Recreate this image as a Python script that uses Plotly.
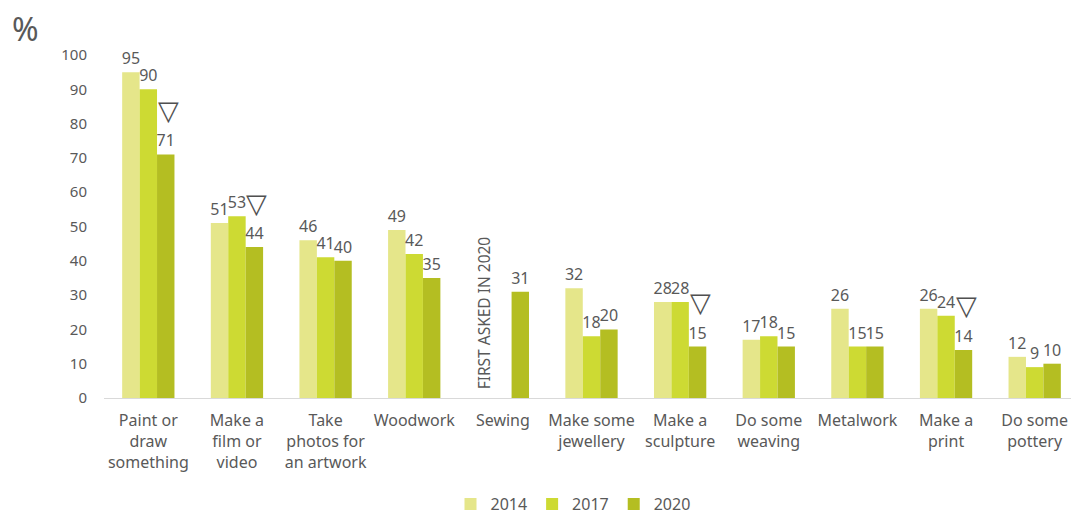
import plotly.graph_objects as go

# activities, with line breaks as they appear under the axis
categories = [
    "Paint or<br>draw<br>something",
    "Make a<br>film or<br>video",
    "Take<br>photos for<br>an artwork",
    "Woodwork",
    "Sewing",
    "Make some<br>jewellery",
    "Make a<br>sculpture",
    "Do some<br>weaving",
    "Metalwork",
    "Make a<br>print",
    "Do some<br>pottery",
]

# % of pupils, per survey year (None = not asked that year)
values_2014 = [95, 51, 46, 49, None, 32, 28, 17, 26, 26, 12]
values_2017 = [90, 53, 41, 42, None, 18, 28, 18, 15, 24, 9]
values_2020 = [71, 44, 40, 35, 31, 20, 15, 15, 15, 14, 10]

# categories with a significant fall since 2017 (marked with a triangle)
significant_drop = [
    "Paint or<br>draw<br>something",
    "Make a<br>film or<br>video",
    "Make a<br>sculpture",
    "Make a<br>print",
]

years = ["2014", "2017", "2020"]
colors = ["#E5E68A", "#CDDA33", "#B4BE22"]
text_color = "#595959"
font_family = "Noto Sans, Open Sans, sans-serif"

fig = go.Figure()
for year, vals, col in zip(years, [values_2014, values_2017, values_2020], colors):
    fig.add_trace(
        go.Bar(
            name=year,
            x=categories,
            y=vals,
            marker=dict(color=col, line=dict(width=0)),
            text=[("" if v is None else str(v)) for v in vals],
            textposition="outside",
            constraintext="none",
            textfont=dict(size=16, color=text_color, family=font_family),
            cliponaxis=False,
        )
    )

for cat in significant_drop:
    v = values_2020[categories.index(cat)]
    fig.add_annotation(
        x=cat, y=v, xref="x", yref="y",
        text="▽", showarrow=False,
        xshift=20, yshift=44,
        font=dict(size=27, color="#505050", family="DejaVu Sans"),
    )

fig.add_annotation(
    x="Sewing", y=0, xref="x", yref="y",
    text="FIRST ASKED IN 2020", showarrow=False,
    textangle=-90, xshift=-19, yshift=7, yanchor="bottom",
    font=dict(size=15.5, color=text_color, family=font_family),
)

# the "%" unit label in the top-left corner
fig.add_annotation(
    x=(25 - 104) / 975, y=(398 - 28) / 343, xref="paper", yref="paper",
    text="%", showarrow=False,
    xanchor="center", yanchor="middle",
    font=dict(size=32, color=text_color, family=font_family),
)

# the page body adds an 8px offset, so margins are shifted to compensate
fig.update_layout(
    width=1079,
    height=513,
    margin=dict(l=96, r=8, t=47, b=123, autoexpand=False),
    plot_bgcolor="white",
    paper_bgcolor="white",
    barmode="group",
    bargap=0.41,
    bargroupgap=0,
    font=dict(family=font_family, size=15, color=text_color),
    legend=dict(
        orientation="h",
        xref="container", yref="container",
        x=(573 - 8) / 1079, y=1 - (504 - 8) / 513,
        xanchor="center", yanchor="middle",
        font=dict(size=16, color=text_color),
    ),
)

fig.update_xaxes(
    showgrid=False,
    showline=True,
    linecolor="#D9D9D9",
    linewidth=1,
    ticks="",
    automargin=False,
    ticklabelstandoff=8,
    tickfont=dict(size=16, color=text_color),
)
fig.update_yaxes(
    range=[0, 100],
    dtick=10,
    showgrid=False,
    zeroline=False,
    showline=False,
    automargin=False,
    ticklabelstandoff=16,
    tickfont=dict(size=15, color=text_color),
)

fig.write_html("out.html")
